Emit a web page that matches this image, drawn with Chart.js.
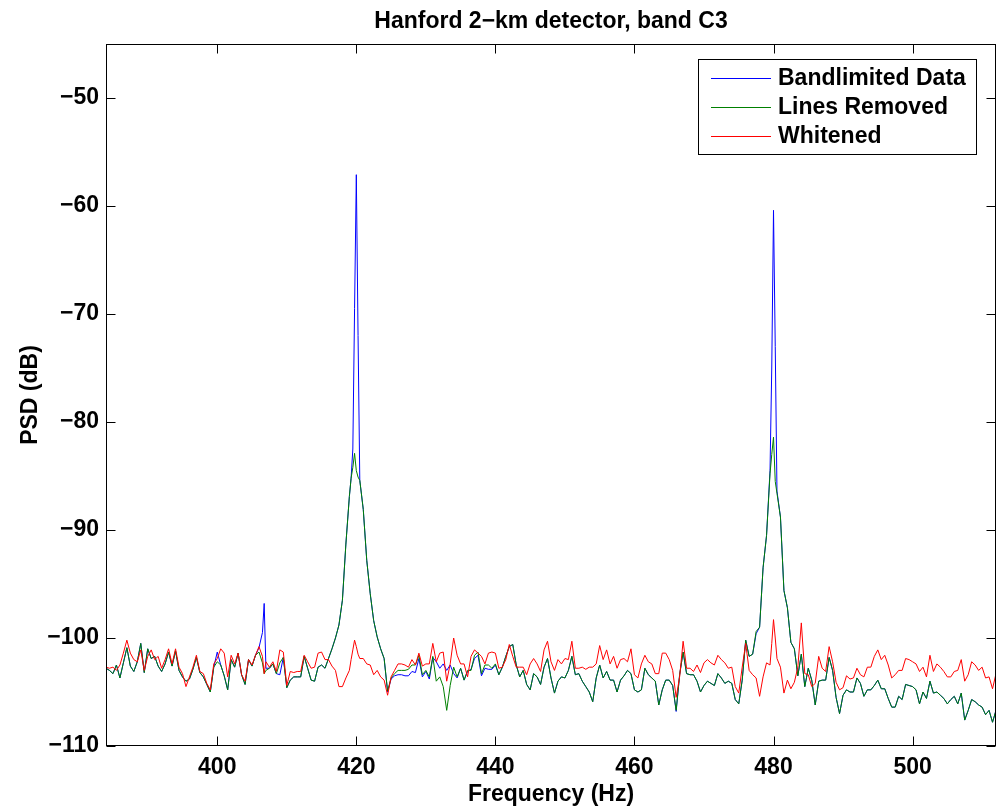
<!DOCTYPE html>
<html>
<head>
<meta charset="utf-8">
<title>Hanford 2-km detector, band C3</title>
<script src="https://cdn.jsdelivr.net/npm/chart.js@4"></script>
<style>
  html, body { margin: 0; padding: 0; background: #fff; }
  canvas { display: block; }
</style>
</head>
<body>
<canvas id="psd" width="997" height="811"></canvas>
<script>
// frequency grid (Hz), a bit finer around the 407, 420 and 480 Hz lines
const freq = [
  384, 384.5, 385, 385.5, 386, 386.5, 387, 387.5, 388, 388.5,
  389, 389.5, 390, 390.5, 391, 391.5, 392, 392.5, 393, 393.5,
  394, 394.5, 395, 395.5, 396, 396.5, 397, 397.5, 398, 398.5,
  399, 399.5, 400, 400.5, 401, 401.5, 402, 402.5, 403, 403.5,
  404, 404.5, 405, 405.5, 406, 406.5, 406.75, 407, 407.5, 408, 408.5,
  409, 409.5, 410, 410.5, 411, 411.5, 412, 412.5, 413, 413.5,
  414, 414.5, 415, 415.5, 416, 416.5, 417, 417.5, 418, 418.5,
  419, 419.25, 419.5, 419.75, 420, 420.25, 420.5, 421, 421.5, 422, 422.5,
  423, 423.5, 424, 424.5, 425, 425.5, 426, 426.5, 427, 427.5,
  428, 428.5, 429, 429.5, 430, 430.5, 431, 431.5, 432, 432.5,
  433, 433.5, 434, 434.5, 435, 435.5, 436, 436.5, 437, 437.5,
  438, 438.5, 439, 439.5, 440, 440.5, 441, 441.5, 442, 442.5,
  443, 443.5, 444, 444.5, 445, 445.5, 446, 446.5, 447, 447.5,
  448, 448.5, 449, 449.5, 450, 450.5, 451, 451.5, 452, 452.5,
  453, 453.5, 454, 454.5, 455, 455.5, 456, 456.5, 457, 457.5,
  458, 458.5, 459, 459.5, 460, 460.5, 461, 461.5, 462, 462.5,
  463, 463.5, 464, 464.5, 465, 465.5, 466, 466.5, 467, 467.5,
  468, 468.5, 469, 469.5, 470, 470.5, 471, 471.5, 472, 472.5,
  473, 473.5, 474, 474.5, 475, 475.5, 476, 476.5, 477, 477.5,
  478, 478.5, 479, 479.5, 479.75, 480, 480.25, 480.5, 481, 481.5, 482, 482.5,
  483, 483.5, 484, 484.5, 485, 485.5, 486, 486.5, 487, 487.5,
  488, 488.5, 489, 489.5, 490, 490.5, 491, 491.5, 492, 492.5,
  493, 493.5, 494, 494.5, 495, 495.5, 496, 496.5, 497, 497.5,
  498, 498.5, 499, 499.5, 500, 500.5, 501, 501.5, 502, 502.5,
  503, 503.5, 504, 504.5, 505, 505.5, 506, 506.5, 507, 507.5,
  508, 508.5, 509, 509.5, 510, 510.5, 511, 511.5, 512
];

// PSD in dB, same row layout as freq
const bandlimited = [
  -102.8, -103.0, -103.3, -102.5, -103.7, -102.3, -100.9, -102.6, -103.1, -102.2,
  -100.5, -103.2, -101.0, -101.9, -101.7, -102.6, -103.1, -102.4, -101.3, -102.6,
  -101.2, -103.0, -103.6, -104.0, -103.8, -102.9, -101.8, -103.2, -103.6, -104.3,
  -105.0, -102.7, -101.3, -102.5, -103.5, -104.8, -102.0, -102.7, -101.4, -103.4,
  -104.3, -102.0, -102.6, -101.6, -100.9, -99.5, -96.8, -102.8, -102.8, -102.4, -103.3,
  -103.4, -101.8, -104.6, -103.9, -103.6, -103.6, -103.6, -101.7, -102.8, -103.9,
  -104.0, -102.7, -102.5, -102.8, -101.9, -101.0, -100.0, -98.8, -96.5, -91.3,
  -86.9, -85.2, -82.5, -69.5, -57.1, -72.0, -85.4, -88.1, -92.8, -95.9, -98.4,
  -99.9, -101.0, -101.9, -105.0, -103.8, -103.5, -103.4, -103.4, -103.5, -103.5,
  -103.1, -103.2, -101.9, -103.6, -103.1, -103.8, -101.8, -102.2, -102.8, -102.4,
  -103.0, -102.5, -103.3, -103.7, -102.8, -103.9, -103.1, -102.9, -101.9, -101.6,
  -103.5, -102.8, -102.9, -102.9, -102.5, -103.4, -102.7, -101.7, -100.8, -100.6,
  -102.5, -103.6, -103.0, -104.3, -104.8, -103.3, -103.6, -104.3, -102.7, -101.9,
  -103.7, -105.1, -104.0, -103.6, -103.7, -103.0, -101.7, -103.4, -103.3, -104.0,
  -104.5, -105.0, -105.9, -103.7, -102.5, -103.7, -103.1, -103.9, -103.9, -105.0,
  -103.9, -103.5, -103.0, -103.3, -104.8, -105.0, -104.8, -102.8, -103.4, -103.7,
  -104.0, -106.2, -104.8, -103.9, -103.9, -104.4, -106.8, -103.4, -101.3, -103.3,
  -103.4, -103.4, -104.0, -105.0, -104.4, -104.0, -104.2, -104.4, -103.3, -103.7,
  -104.2, -104.0, -104.2, -105.7, -106.1, -103.9, -100.2, -101.7, -101.5, -99.6,
  -99.0, -93.5, -90.5, -84.5, -75.0, -60.4, -73.0, -86.4, -88.8, -95.6, -97.2, -100.4,
  -101.0, -103.5, -101.5, -104.5, -102.8, -103.9, -106.2, -104.0, -103.9, -103.9,
  -101.8, -103.0, -105.5, -107.0, -105.3, -104.8, -105.0, -105.0, -103.7, -104.2,
  -105.4, -104.8, -104.8, -104.4, -103.9, -104.7, -104.7, -105.6, -106.4, -106.4,
  -105.4, -105.7, -104.3, -104.4, -104.5, -104.8, -106.1, -105.0, -105.6, -104.0,
  -105.1, -105.0, -105.3, -105.6, -106.1, -105.7, -105.4, -106.1, -105.1, -107.6,
  -106.7, -105.7, -105.9, -106.2, -106.4, -107.1, -106.7, -107.8, -106.7
];

const linesRemoved = [
  -102.8, -103.0, -103.3, -102.5, -103.7, -102.3, -100.9, -102.6, -103.1, -102.2,
  -100.5, -103.2, -101.0, -101.9, -101.7, -102.6, -103.1, -102.4, -101.3, -102.6,
  -101.2, -103.0, -103.6, -104.0, -103.8, -102.9, -101.8, -103.2, -103.6, -104.3,
  -105.0, -102.7, -102.2, -102.5, -103.5, -104.8, -102.0, -102.7, -101.4, -103.4,
  -104.3, -102.0, -102.6, -101.6, -101.3, -102.3, -103.3, -103.0, -102.8, -102.4, -103.3,
  -102.3, -101.8, -104.6, -103.9, -103.6, -103.6, -103.6, -101.7, -102.8, -103.9,
  -104.0, -102.7, -102.5, -102.8, -101.9, -101.0, -100.0, -98.8, -96.5, -91.3,
  -86.9, -85.2, -84.2, -82.9, -84.5, -85.1, -85.4, -88.1, -92.8, -95.9, -98.4,
  -99.9, -101.0, -101.9, -104.9, -103.7, -103.3, -103.0, -103.0, -103.0, -102.9,
  -102.5, -102.5, -101.6, -103.4, -103.0, -103.6, -101.7, -104.0, -103.6, -104.5,
  -106.7, -104.4, -102.7, -103.6, -102.8, -103.9, -103.0, -103.0, -101.6, -101.3,
  -103.3, -102.5, -102.5, -102.8, -102.4, -103.4, -102.7, -101.7, -100.8, -100.6,
  -102.5, -103.6, -103.0, -104.3, -104.8, -103.3, -103.6, -104.3, -102.7, -101.9,
  -103.7, -105.1, -104.0, -103.6, -103.7, -103.0, -101.7, -103.4, -103.3, -104.0,
  -104.5, -105.0, -105.9, -103.7, -102.5, -103.7, -103.1, -103.9, -103.9, -105.0,
  -103.9, -103.5, -103.0, -103.3, -104.8, -105.0, -104.8, -102.8, -103.4, -103.7,
  -104.0, -106.2, -104.8, -103.9, -103.9, -104.4, -106.7, -103.4, -101.3, -103.3,
  -103.4, -103.4, -104.0, -105.0, -104.4, -104.0, -104.2, -104.4, -103.3, -103.7,
  -104.2, -104.0, -104.2, -105.7, -106.1, -103.9, -100.2, -101.7, -101.5, -99.4,
  -99.0, -93.5, -90.5, -84.8, -83.0, -81.4, -85.5, -86.6, -88.8, -95.6, -97.2, -100.4,
  -101.0, -103.5, -101.5, -104.5, -102.8, -103.9, -106.2, -104.0, -103.9, -103.9,
  -101.8, -103.0, -105.5, -107.0, -105.3, -104.8, -105.0, -105.0, -103.7, -104.2,
  -105.4, -104.8, -104.8, -104.4, -103.9, -104.7, -104.7, -105.6, -106.4, -106.4,
  -105.4, -105.7, -104.3, -104.4, -104.5, -104.8, -106.1, -105.0, -105.6, -104.0,
  -105.1, -105.0, -105.3, -105.6, -106.1, -105.7, -105.4, -106.1, -105.1, -107.6,
  -106.7, -105.7, -105.9, -106.2, -106.4, -107.1, -106.7, -107.8, -106.7
];

const whitened = [
  -102.7, -102.8, -102.7, -103.0, -102.5, -101.4, -100.2, -101.4, -102.0, -102.2,
  -101.1, -103.0, -101.7, -101.1, -102.0, -101.7, -102.8, -102.0, -101.0, -102.4,
  -101.0, -102.7, -103.3, -104.5, -103.6, -102.7, -101.6, -103.1, -103.3, -104.2,
  -104.8, -102.4, -101.9, -101.0, -101.4, -103.6, -101.6, -102.4, -101.4, -103.4,
  -104.0, -102.0, -102.5, -101.6, -100.8, -101.7, -103.3, -102.2, -102.7, -102.2, -103.1,
  -101.1, -101.3, -104.4, -103.1, -103.2, -103.1, -103.1, -101.6, -102.2, -102.8,
  -102.7, -101.4, -101.3, -102.0, -102.0, -102.6, -103.0, -104.5, -104.5, -103.7,
  -103.0, -102.0, -101.1, -100.2, -100.8, -101.5, -101.9, -101.9, -102.4, -102.5, -103.4,
  -103.0, -103.6, -103.9, -105.3, -103.6, -103.0, -102.4, -102.4, -102.5, -102.7,
  -102.0, -102.5, -101.4, -102.6, -102.4, -102.4, -100.5, -102.2, -101.4, -101.3,
  -104.0, -102.4, -100.0, -101.6, -102.4, -102.4, -103.6, -101.7, -101.1, -101.4,
  -101.7, -102.4, -101.4, -101.3, -101.4, -102.8, -102.7, -102.0, -100.6, -101.7,
  -102.7, -102.7, -102.7, -103.4, -102.4, -101.9, -102.4, -103.1, -101.1, -100.3,
  -102.2, -103.0, -102.0, -102.4, -101.9, -102.0, -100.3, -102.8, -102.8, -102.7,
  -102.9, -102.7, -102.7, -102.4, -100.7, -102.0, -101.1, -102.4, -101.7, -102.8,
  -102.0, -101.9, -102.2, -101.0, -103.4, -103.7, -102.4, -101.6, -102.2, -102.4,
  -103.3, -103.3, -101.4, -101.4, -102.0, -103.0, -105.5, -103.6, -100.3, -102.8,
  -102.8, -103.1, -102.5, -103.2, -102.3, -102.0, -102.3, -102.5, -101.6, -102.0,
  -102.3, -102.8, -102.7, -104.5, -105.1, -102.7, -100.5, -103.0, -103.4, -103.7,
  -105.4, -103.6, -102.3, -102.5, -100.5, -98.3, -100.0, -101.9, -102.7, -105.1, -103.9, -104.7,
  -104.1, -102.7, -98.6, -103.3, -103.4, -104.5, -104.2, -101.7, -102.8, -103.1,
  -100.8, -102.2, -104.1, -104.8, -104.6, -103.5, -103.8, -103.7, -102.8, -103.4,
  -103.6, -102.7, -102.7, -101.7, -101.1, -102.0, -101.6, -102.5, -103.7, -103.4,
  -103.0, -103.0, -101.9, -102.0, -102.2, -102.4, -103.1, -102.7, -103.6, -101.6,
  -103.1, -102.4, -102.7, -103.1, -103.6, -103.6, -103.1, -103.0, -102.0, -104.0,
  -103.4, -102.2, -102.5, -103.0, -102.7, -103.7, -103.6, -104.7, -103.3
];

const xTicks = [400, 420, 440, 460, 480, 500];
const yTicks = [-110, -100, -90, -80, -70, -60, -50];
const seriesNames = ["Bandlimited Data", "Lines Removed", "Whitened"];
const seriesColors = ["#0000ff", "#008000", "#ff0000"];

const FONT = "'Liberation Sans', Arial, Helvetica, sans-serif";
const minus = v => String(v).replace("-", "\u2212");

function points(values) {
  return freq.map((f, i) => ({ x: f, y: values[i] }));
}

// matlab style box with inward ticks, plus the legend in the upper right
const axesBox = {
  id: "axesBox",
  afterDatasetsDraw(chart) {
    const { ctx, chartArea: a, scales } = chart;
    const L = Math.round(a.left) + 0.5, R = Math.round(a.right) - 0.5;
    const T = Math.round(a.top) + 0.5, B = Math.round(a.bottom) - 0.5;
    const len = 9;
    ctx.save();
    ctx.strokeStyle = "#000";
    ctx.lineWidth = 1;
    ctx.strokeRect(L, T, R - L, B - T);
    ctx.beginPath();
    xTicks.forEach(v => {
      const px = Math.round(scales.x.getPixelForValue(v)) + 0.5;
      ctx.moveTo(px, B); ctx.lineTo(px, B - len);
      ctx.moveTo(px, T); ctx.lineTo(px, T + len);
    });
    yTicks.forEach(v => {
      const py = Math.round(scales.y.getPixelForValue(v)) + 0.5;
      ctx.moveTo(L, py); ctx.lineTo(L + len, py);
      ctx.moveTo(R, py); ctx.lineTo(R - len, py);
    });
    ctx.stroke();

    // legend
    const bx = 698.5, by = 59.5, bw = 278, bh = 95;
    ctx.fillStyle = "#fff";
    ctx.fillRect(bx, by, bw, bh);
    ctx.strokeRect(bx, by, bw, bh);
    ctx.font = "bold 23px " + FONT;
    ctx.textBaseline = "middle";
    ctx.textAlign = "left";
    chart.data.datasets.forEach((ds, i) => {
      const ly = 77.5 + i * 29.3;
      ctx.strokeStyle = ds.borderColor;
      ctx.beginPath();
      ctx.moveTo(711, Math.round(ly) + 0.5);
      ctx.lineTo(771, Math.round(ly) + 0.5);
      ctx.stroke();
      ctx.fillStyle = "#000";
      ctx.fillText(ds.label, 778, ly + 1);
    });
    ctx.restore();
  }
};

const config = {
  type: "line",
  data: {
    datasets: [
      { label: seriesNames[0], data: points(bandlimited), borderColor: seriesColors[0], order: 3 },
      { label: seriesNames[1], data: points(linesRemoved), borderColor: seriesColors[1], order: 2 },
      { label: seriesNames[2], data: points(whitened), borderColor: seriesColors[2], order: 1 },
    ],
  },
  options: {
    responsive: false,
    animation: false,
    devicePixelRatio: 1,
    layout: { padding: { left: 0, right: 1, top: 0, bottom: 0 } },
    elements: {
      line: { borderWidth: 1, tension: 0, fill: false },
      point: { radius: 0 },
    },
    scales: {
      x: {
        type: "linear",
        min: 384,
        max: 512,
        grid: { display: false, drawTicks: false },
        border: { display: false },
        afterBuildTicks: s => { s.ticks = xTicks.map(v => ({ value: v })); },
        afterFit: s => { s.height = 65; },
        ticks: {
          color: "#000",
          padding: 8,
          maxRotation: 0,
          font: { family: FONT, size: 23, weight: "bold" },
        },
        title: {
          display: true,
          text: "Frequency (Hz)",
          color: "#000",
          padding: { top: 0, bottom: 3 },
          font: { family: FONT, size: 23, weight: "bold" },
        },
      },
      y: {
        type: "linear",
        min: -110,
        max: -45,
        grid: { display: false, drawTicks: false },
        border: { display: false },
        afterBuildTicks: s => { s.ticks = yTicks.map(v => ({ value: v })); },
        afterFit: s => { s.width = 106; },
        ticks: {
          color: "#000",
          padding: 7,
          callback: v => minus(v),
          font: { family: FONT, size: 23, weight: "bold" },
        },
        title: {
          display: true,
          text: "PSD (dB)",
          color: "#000",
          padding: { top: 17, bottom: 0 },
          font: { family: FONT, size: 23, weight: "bold" },
        },
      },
    },
    plugins: {
      legend: { display: false },
      tooltip: { enabled: false },
      title: {
        display: true,
        fullSize: false,
        text: "Hanford 2\u2212km detector, band C3",
        color: "#000",
        padding: { top: 8, bottom: 8.4 },
        font: { family: FONT, size: 23, weight: "bold" },
      },
    },
  },
  plugins: [axesBox],
};

const psdChart = new Chart(document.getElementById("psd"), config);
</script>
</body>
</html>
